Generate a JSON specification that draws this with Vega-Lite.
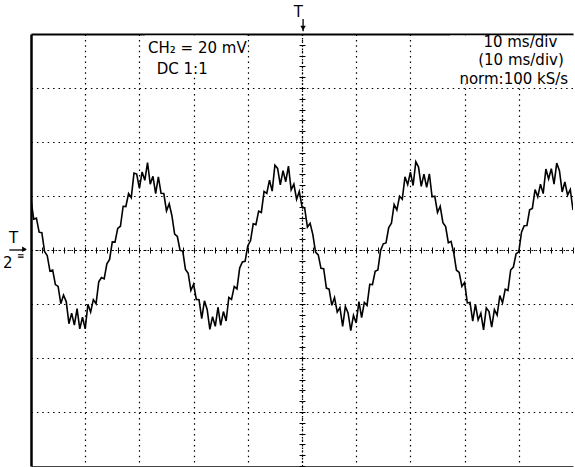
{
  "$schema": "https://vega.github.io/schema/vega-lite/v6.json",
  "width": 542,
  "height": 432,
  "autosize": {"type": "none"},
  "padding": {"left": 31, "top": 34, "right": 2, "bottom": 1},
  "background": "white",
  "config": {"view": {"stroke": null}, "font": "DejaVu Sans"},
  "datasets": {
    "signal": [
      {"t":0,"v":18.7},{"t":0.5,"v":11.4},{"t":1,"v":11.8},{"t":1.5,"v":6.6},{"t":2,"v":6.4},{"t":2.5,"v":-0.5},{"t":3,"v":-2.1},{"t":3.5,"v":-7.8},{"t":4,"v":-7.4},{"t":4.5,"v":-12.8},
      {"t":5,"v":-13.5},{"t":5.5,"v":-19.9},{"t":6,"v":-16.7},{"t":6.5,"v":-19.1},{"t":7,"v":-27.3},{"t":7.5,"v":-23.4},{"t":8,"v":-27.8},{"t":8.5,"v":-21.7},{"t":9,"v":-29.2},{"t":9.5,"v":-24.9},
      {"t":10,"v":-29.2},{"t":10.5,"v":-20.1},{"t":11,"v":-23.0},{"t":11.5,"v":-18.4},{"t":12,"v":-19.9},{"t":12.5,"v":-11.8},{"t":13,"v":-10.2},{"t":13.5,"v":-10.7},{"t":14,"v":-5.1},{"t":14.5,"v":-3.5},
      {"t":15,"v":3.0},{"t":15.5,"v":2.9},{"t":16,"v":8.0},{"t":16.5,"v":8.8},{"t":17,"v":16.2},{"t":17.5,"v":16.1},{"t":18,"v":20.9},{"t":18.5,"v":19.4},{"t":19,"v":28.5},{"t":19.5,"v":28.1},
      {"t":20,"v":22.8},{"t":20.5,"v":28.9},{"t":21,"v":25.8},{"t":21.5,"v":32.4},{"t":22,"v":24.4},{"t":22.5,"v":27.3},{"t":23,"v":20.9},{"t":23.5,"v":27.1},{"t":24,"v":21.0},{"t":24.5,"v":20.9},
      {"t":25,"v":14.5},{"t":25.5,"v":17.1},{"t":26,"v":12.7},{"t":26.5,"v":5.9},{"t":27,"v":5.0},{"t":27.5,"v":-0.1},{"t":28,"v":-0.4},{"t":28.5,"v":-7.2},{"t":29,"v":-8.6},{"t":29.5,"v":-15.0},
      {"t":30,"v":-12.7},{"t":30.5,"v":-18.3},{"t":31,"v":-18.4},{"t":31.5,"v":-25.4},{"t":32,"v":-18.8},{"t":32.5,"v":-22.0},{"t":33,"v":-29.4},{"t":33.5,"v":-24.7},{"t":34,"v":-28.3},{"t":34.5,"v":-21.2},
      {"t":35,"v":-27.9},{"t":35.5,"v":-22.8},{"t":36,"v":-26.3},{"t":36.5,"v":-17.6},{"t":37,"v":-18.3},{"t":37.5,"v":-13.5},{"t":38,"v":-14.4},{"t":38.5,"v":-6.7},{"t":39,"v":-4.4},{"t":39.5,"v":-4.2},
      {"t":40,"v":1.6},{"t":40.5,"v":3.4},{"t":41,"v":9.7},{"t":41.5,"v":9.4},{"t":42,"v":14.4},{"t":42.5,"v":13.9},{"t":43,"v":21.7},{"t":43.5,"v":21.0},{"t":44,"v":25.9},{"t":44.5,"v":21.8},
      {"t":45,"v":31.4},{"t":45.5,"v":30.2},{"t":46,"v":24.1},{"t":46.5,"v":29.4},{"t":47,"v":25.3},{"t":47.5,"v":31.1},{"t":48,"v":22.3},{"t":48.5,"v":24.4},{"t":49,"v":18.8},{"t":49.5,"v":21.7},
      {"t":50,"v":16.1},{"t":50.5,"v":15.4},{"t":51,"v":8.5},{"t":51.5,"v":9.9},{"t":52,"v":5.7},{"t":52.5,"v":-0.8},{"t":53,"v":-1.8},{"t":53.5,"v":-6.8},{"t":54,"v":-6.9},{"t":54.5,"v":-14.1},
      {"t":55,"v":-14.5},{"t":55.5,"v":-20.5},{"t":56,"v":-17.6},{"t":56.5,"v":-23.0},{"t":57,"v":-21.3},{"t":57.5,"v":-28.3},{"t":58,"v":-20.9},{"t":58.5,"v":-23.3},{"t":59,"v":-29.9},{"t":59.5,"v":-24.2},
      {"t":60,"v":-27.0},{"t":60.5,"v":-19.1},{"t":61,"v":-25.0},{"t":61.5,"v":-19.4},{"t":62,"v":-20.5},{"t":62.5,"v":-12.7},{"t":63,"v":-12.8},{"t":63.5,"v":-7.9},{"t":64,"v":-7.4},{"t":64.5,"v":-0.2},
      {"t":65,"v":2.3},{"t":65.5,"v":2.6},{"t":66,"v":8.3},{"t":66.5,"v":9.9},{"t":67,"v":16.9},{"t":67.5,"v":14.8},{"t":68,"v":19.9},{"t":68.5,"v":18.8},{"t":69,"v":27.1},{"t":69.5,"v":24.2},
      {"t":70,"v":28.8},{"t":70.5,"v":23.9},{"t":71,"v":32.7},{"t":71.5,"v":30.7},{"t":72,"v":23.6},{"t":72.5,"v":28.1},{"t":73,"v":23.2},{"t":73.5,"v":28.2},{"t":74,"v":19.7},{"t":74.5,"v":19.9},
      {"t":75,"v":13.9},{"t":75.5,"v":16.2},{"t":76,"v":10.1},{"t":76.5,"v":8.7},{"t":77,"v":2.7},{"t":77.5,"v":3.2},{"t":78,"v":-1.1},{"t":78.5,"v":-7.5},{"t":79,"v":-8.3},{"t":79.5,"v":-13.5},
      {"t":80,"v":-12.0},{"t":80.5,"v":-19.6},{"t":81,"v":-19.4},{"t":81.5,"v":-26.3},{"t":82,"v":-20.1},{"t":82.5,"v":-25.9},{"t":83,"v":-23.4},{"t":83.5,"v":-29.6},{"t":84,"v":-21.4},{"t":84.5,"v":-22.8},
      {"t":85,"v":-28.6},{"t":85.5,"v":-22.1},{"t":86,"v":-24.1},{"t":86.5,"v":-16.9},{"t":87,"v":-19.6},{"t":87.5,"v":-14.5},{"t":88,"v":-15.0},{"t":88.5,"v":-7.4},{"t":89,"v":-6.3},{"t":89.5,"v":-1.4},
      {"t":90,"v":-0.7},{"t":90.5,"v":6.6},{"t":91,"v":9.0},{"t":91.5,"v":9.1},{"t":92,"v":14.9},{"t":92.5,"v":15.4},{"t":93,"v":22.4},{"t":93.5,"v":19.7},{"t":94,"v":24.4},{"t":94.5,"v":20.9},
      {"t":95,"v":30.0},{"t":95.5,"v":26.3},{"t":96,"v":30.1},{"t":96.5,"v":24.4},{"t":97,"v":32.2},{"t":97.5,"v":29.4},{"t":98,"v":21.5},{"t":98.5,"v":25.2},{"t":99,"v":20.3},{"t":99.5,"v":22.4},
      {"t":100,"v":14.8}
    ],
    "boxes": [
      {"t":21.0,"t2":39.8,"v":79.4,"v2":64.2},
      {"t":77.3,"t2":100,"v":79.4,"v2":61.6}
    ],
    "leftText": [
      {"t":21.6,"v":74.8,"label":"CH₂ = 20 mV"},
      {"t":23.2,"v":67.2,"label":"DC  1:1"}
    ],
    "rightText": [
      {"t":97.1,"v":77.2,"label":"10 ms/div"},
      {"t":98.3,"v":70.2,"label":"(10 ms/div)"},
      {"t":99.1,"v":63.4,"label":"norm:100 kS/s"}
    ],
    "markers": [
      {"t":49.3,"v":88,"label":"T"},
      {"t":-3.2,"v":4.4,"label":"T"},
      {"t":-4.3,"v":-4.8,"label":"2"}
    ],
    "ground": [
      {"t":-1.9,"v":-2.4,"label":"≡"}
    ],
    "rules": [
      {"t":50.2,"t2":50.2,"v":85.6,"v2":81.0},
      {"t":-4.0,"t2":-1.0,"v":0,"v2":0}
    ]
  },
  "layer": [
    {
      "data": {"name": "signal"},
      "mark": {"type": "line", "color": "black", "strokeWidth": 1.6, "clip": true},
      "encoding": {
        "x": {"field": "t", "type": "quantitative", "scale": {"domain": [0, 100], "nice": false, "zero": false},
          "axis": {"orient": "bottom", "values": [10,20,30,40,50,60,70,80,90], "grid": true, "gridDash": [1.5, 3.9], "gridColor": "black", "gridOpacity": 1, "gridWidth": 1.2, "labels": false, "ticks": false, "domain": true, "domainColor": "#444", "domainWidth": 1, "title": null}},
        "y": {"field": "v", "type": "quantitative", "scale": {"domain": [-80, 80], "nice": false, "zero": false},
          "axis": {"orient": "left", "values": [-60,-40,-20,0,20,40,60], "grid": true, "gridDash": [1.5, 3.9], "gridColor": "black", "gridOpacity": 1, "gridWidth": 1.2, "labels": false, "ticks": false, "domain": true, "domainColor": "black", "domainWidth": 2.5, "title": null}}
      }
    },
    {
      "data": {"name": "boxes"},
      "mark": {"type": "rect", "color": "white", "opacity": 1},
      "encoding": {
        "x": {"field": "t", "type": "quantitative", "scale": {"domain": [0, 100], "nice": false, "zero": false}, "axis": null},
        "x2": {"field": "t2"},
        "y": {"field": "v", "type": "quantitative", "scale": {"domain": [-80, 80], "nice": false, "zero": false}, "axis": null},
        "y2": {"field": "v2"}
      }
    },
    {
      "data": {"name": "leftText"},
      "mark": {"type": "text", "align": "left", "baseline": "middle", "fontSize": 15, "color": "black", "font": "DejaVu Sans"},
      "encoding": {
        "x": {"field": "t", "type": "quantitative", "scale": {"domain": [0, 100], "nice": false, "zero": false},
          "axis": {"orient": "top", "grid": false, "labels": false, "ticks": false, "domain": true, "domainColor": "black", "domainWidth": 1.8, "title": null}},
        "y": {"field": "v", "type": "quantitative", "scale": {"domain": [-80, 80], "nice": false, "zero": false},
          "axis": {"orient": "left", "offset": -271, "values": [-80,-76,-72,-68,-64,-60,-56,-52,-48,-44,-40,-36,-32,-28,-24,-20,-16,-12,-8,-4,0,4,8,12,16,20,24,28,32,36,40,44,48,52,56,60,64,68,72,76,80], "tickSize": 3, "tickColor": "black", "tickWidth": 1, "domain": true, "domainDash": [1.5, 2], "domainColor": "black", "domainWidth": 1.2, "labels": false, "grid": false, "title": null}},
        "text": {"field": "label"}
      }
    },
    {
      "data": {"name": "rightText"},
      "mark": {"type": "text", "align": "right", "baseline": "middle", "fontSize": 15, "color": "black", "font": "DejaVu Sans"},
      "encoding": {
        "x": {"field": "t", "type": "quantitative", "scale": {"domain": [0, 100], "nice": false, "zero": false},
          "axis": {"orient": "bottom", "offset": -216, "values": [0,2,4,6,8,10,12,14,16,18,20,22,24,26,28,30,32,34,36,38,40,42,44,46,48,50,52,54,56,58,60,62,64,66,68,70,72,74,76,78,80,82,84,86,88,90,92,94,96,98,100], "tickSize": 3, "tickColor": "black", "tickWidth": 1, "domain": true, "domainDash": [1.5, 2.5], "domainColor": "black", "domainWidth": 1.2, "labels": false, "grid": false, "title": null}},
        "y": {"field": "v", "type": "quantitative", "scale": {"domain": [-80, 80], "nice": false, "zero": false},
          "axis": {"orient": "right", "offset": -271, "values": [-80,-76,-72,-68,-64,-60,-56,-52,-48,-44,-40,-36,-32,-28,-24,-20,-16,-12,-8,-4,0,4,8,12,16,20,24,28,32,36,40,44,48,52,56,60,64,68,72,76,80], "tickSize": 3, "tickColor": "black", "tickWidth": 1, "domain": false, "labels": false, "grid": false, "title": null}},
        "text": {"field": "label"}
      }
    },
    {
      "data": {"name": "markers"},
      "mark": {"type": "text", "align": "center", "baseline": "middle", "fontSize": 15, "color": "black", "font": "DejaVu Sans"},
      "encoding": {
        "x": {"field": "t", "type": "quantitative", "scale": {"domain": [0, 100], "nice": false, "zero": false},
          "axis": {"orient": "top", "offset": -216, "values": [0,2,4,6,8,10,12,14,16,18,20,22,24,26,28,30,32,34,36,38,40,42,44,46,48,50,52,54,56,58,60,62,64,66,68,70,72,74,76,78,80,82,84,86,88,90,92,94,96,98,100], "tickSize": 3, "tickColor": "black", "tickWidth": 1, "domain": false, "labels": false, "grid": false, "title": null}},
        "y": {"field": "v", "type": "quantitative", "scale": {"domain": [-80, 80], "nice": false, "zero": false}, "axis": null},
        "text": {"field": "label"}
      }
    },
    {
      "data": {"name": "ground"},
      "mark": {"type": "text", "align": "center", "baseline": "middle", "fontSize": 9, "color": "black", "font": "DejaVu Sans"},
      "encoding": {
        "x": {"field": "t", "type": "quantitative", "scale": {"domain": [0, 100], "nice": false, "zero": false}, "axis": null},
        "y": {"field": "v", "type": "quantitative", "scale": {"domain": [-80, 80], "nice": false, "zero": false}, "axis": null},
        "text": {"field": "label"}
      }
    },
    {
      "data": {"name": "rules"},
      "mark": {"type": "rule", "color": "black", "strokeWidth": 1.3},
      "encoding": {
        "x": {"field": "t", "type": "quantitative", "scale": {"domain": [0, 100], "nice": false, "zero": false}, "axis": null},
        "x2": {"field": "t2"},
        "y": {"field": "v", "type": "quantitative", "scale": {"domain": [-80, 80], "nice": false, "zero": false}, "axis": null},
        "y2": {"field": "v2"}
      }
    },
    {
      "data": {"values": [{"t": 50.2, "v": 82.2}]},
      "mark": {"type": "point", "shape": "triangle-down", "filled": true, "color": "black", "size": 30, "opacity": 1},
      "encoding": {
        "x": {"field": "t", "type": "quantitative", "scale": {"domain": [0, 100], "nice": false, "zero": false}, "axis": null},
        "y": {"field": "v", "type": "quantitative", "scale": {"domain": [-80, 80], "nice": false, "zero": false}, "axis": null}
      }
    },
    {
      "data": {"values": [{"t": -1.2, "v": 0.3}]},
      "mark": {"type": "point", "shape": "triangle-right", "filled": true, "color": "black", "size": 30, "opacity": 1},
      "encoding": {
        "x": {"field": "t", "type": "quantitative", "scale": {"domain": [0, 100], "nice": false, "zero": false}, "axis": null},
        "y": {"field": "v", "type": "quantitative", "scale": {"domain": [-80, 80], "nice": false, "zero": false}, "axis": null}
      }
    }
  ],
  "resolve": {"axis": {"x": "independent", "y": "independent"}}
}
